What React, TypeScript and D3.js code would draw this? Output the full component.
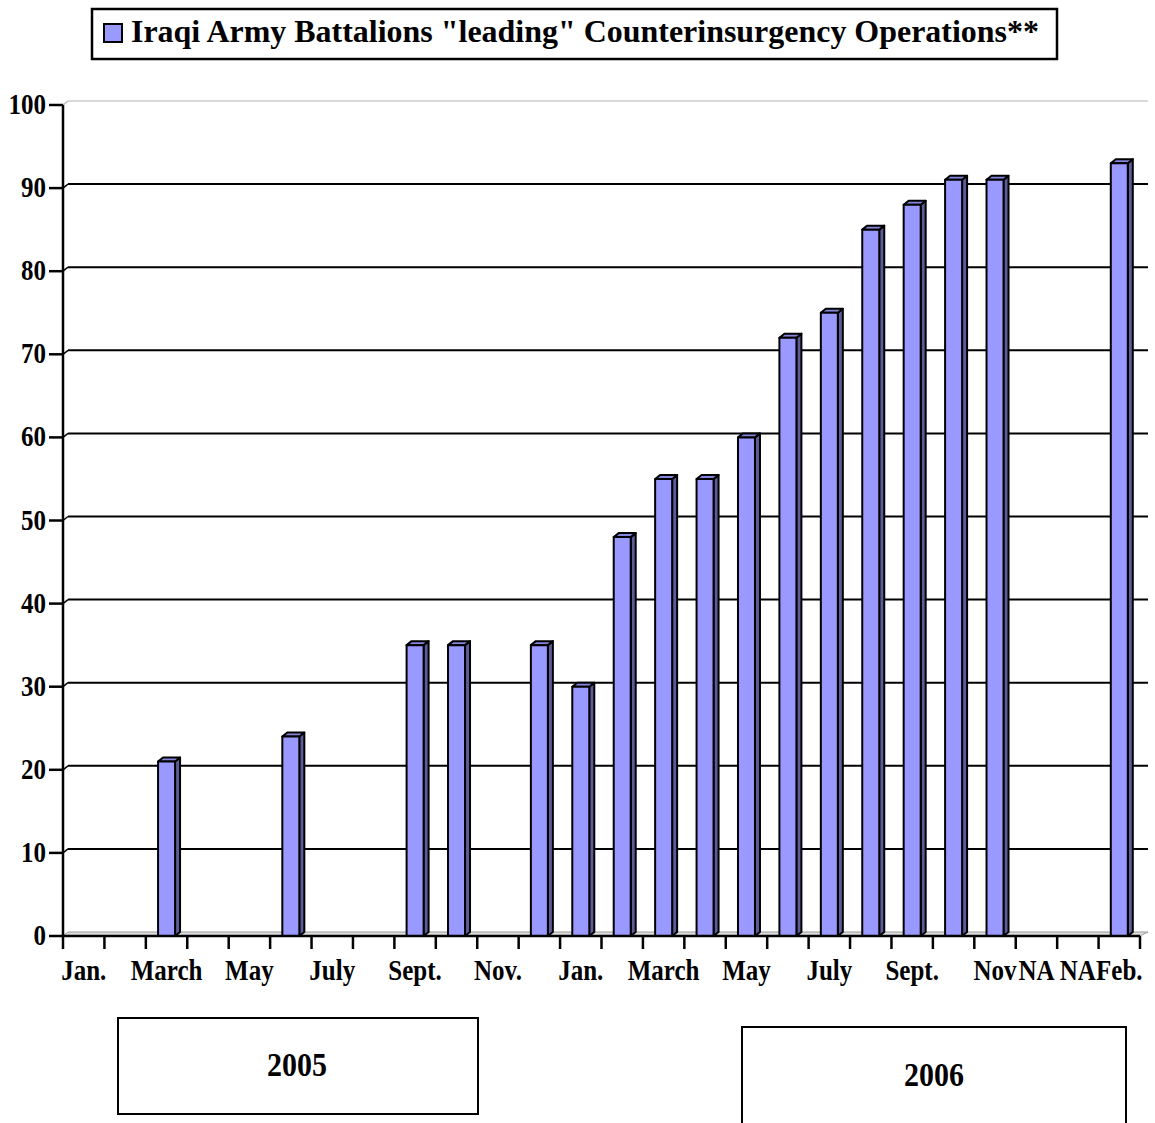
import React from 'react';
import * as d3 from 'd3';

// months Jan 2005 .. Feb 2007
const categories = [
  'Jan 05', 'Feb 05', 'Mar 05', 'Apr 05', 'May 05', 'Jun 05', 'Jul 05', 'Aug 05', 'Sep 05', 'Oct 05', 'Nov 05', 'Dec 05',
  'Jan 06', 'Feb 06', 'Mar 06', 'Apr 06', 'May 06', 'Jun 06', 'Jul 06', 'Aug 06', 'Sep 06', 'Oct 06', 'Nov 06',
  'NA 1', 'NA 2', 'Feb 07',
];
// shown labels (Excel skipped every other one)
const tickLabels = [
  'Jan.', '', 'March', '', 'May', '', 'July', '', 'Sept.', '', 'Nov.', '',
  'Jan.', '', 'March', '', 'May', '', 'July', '', 'Sept.', '', 'Nov',
  'NA', 'NA', 'Feb.',
];
const battalions: (number | null)[] = [
  null, null, 21, null, null, 24, null, null, 35, 35, null, 35,
  30, 48, 55, 55, 60, 72, 75, 85, 88, 91, 91,
  null, null, 93,
];
const yTicks = [0, 10, 20, 30, 40, 50, 60, 70, 80, 90, 100];
const legendLabel = 'Iraqi Army Battalions "leading" Counterinsurgency Operations**';

const serif = '"Liberation Serif", "Times New Roman", serif';

// text drawn a bit taller than wide, like the original picture
const Tall = ({ x, y, size, anchor = 'start', sy = 1.2, children, len }: any) => (
  <text transform={`translate(${x},${y}) scale(1,${sy})`} fontSize={size} textAnchor={anchor}
    textLength={len} lengthAdjust={len ? 'spacingAndGlyphs' : undefined}>
    {children}
  </text>
);

export default function App() {
  const x = d3.scaleBand<string>().domain(categories).range([63, 1140]).padding(0);
  const y = d3.scaleLinear().domain([0, 100]).range([936, 105]);
  const dx = 5;
  const dy = 4;
  const bw = 17;

  const bars = categories
    .map((c, i) => ({ c, v: battalions[i] }))
    .filter((d) => d.v !== null) as { c: string; v: number }[];

  return (
    <svg width={1155} height={1123} style={{ position: 'absolute', left: 0, top: 0, background: '#fff' }}
      fontFamily={serif} fontWeight="bold">
      {/* legend */}
      <rect x={92} y={9} width={965} height={50} fill="#fff" stroke="#000" strokeWidth={2.5} />
      <rect x={104} y={24} width={18} height={18} fill="#9999ff" stroke="#000" strokeWidth={2} />
      <Tall x={131} y={42} size={28} len={908} sy={1.1}>{legendLabel}</Tall>

      {/* floor */}
      <path d={`M63,${y(0)} L${x.range()[1]},${y(0)} L${x.range()[1] + dx + 3},${y(0) - dy} L${63 + dx},${y(0) - dy} Z`}
        fill="#ddd" stroke="#999" strokeWidth={1} />
      {/* back wall top edge */}
      <line x1={63} y1={y(100)} x2={63 + dx} y2={y(100) - dy} stroke="#bbb" strokeWidth={1.5} />
      <line x1={63 + dx} y1={y(100) - dy} x2={1148} y2={y(100) - dy} stroke="#ccc" strokeWidth={1.5} />

      {/* gridlines */}
      {yTicks.filter((t) => t > 0 && t < 100).map((t) => (
        <g key={t}>
          <line x1={63} y1={y(t)} x2={63 + dx} y2={y(t) - dy} stroke="#000" strokeWidth={1.5} />
          <line x1={63 + dx} y1={y(t) - dy} x2={1148} y2={y(t) - dy} stroke="#000" strokeWidth={2} />
        </g>
      ))}

      {/* bars */}
      {bars.map((d) => {
        const cx = (x(d.c) as number) + x.bandwidth() / 2;
        const x0 = cx - bw / 2;
        const x1 = cx + bw / 2;
        const yt = y(d.v);
        const yb = y(0);
        return (
          <g key={d.c} stroke="#000" strokeWidth={2} strokeLinejoin="round">
            <path d={`M${x1},${yt} L${x1 + dx},${yt - dy} L${x1 + dx},${yb - dy} L${x1},${yb} Z`} fill="#5c5c99" />
            <path d={`M${x0},${yt} L${x0 + dx},${yt - dy} L${x1 + dx},${yt - dy} L${x1},${yt} Z`} fill="#8585dd" />
            <rect x={x0} y={yt} width={bw} height={yb - yt} fill="#9999ff" />
          </g>
        );
      })}

      {/* y axis */}
      <line x1={63} y1={y(100)} x2={63} y2={y(0)} stroke="#000" strokeWidth={2.5} />
      {yTicks.map((t) => (
        <g key={t}>
          <line x1={49} y1={y(t)} x2={63} y2={y(t)} stroke="#000" strokeWidth={2.5} />
          <Tall x={46} y={y(t) + 9} size={25} anchor="end" sy={1.2}>{t}</Tall>
        </g>
      ))}

      {/* x axis */}
      <line x1={62} y1={y(0)} x2={x.range()[1]} y2={y(0)} stroke="#000" strokeWidth={2.5} />
      {[...categories.map((c) => x(c) as number), x.range()[1]].map((px, i) => (
        <line key={i} x1={px} y1={y(0)} x2={px} y2={y(0) + 13} stroke="#000" strokeWidth={2.5} />
      ))}
      {categories.map((c, i) => (
        tickLabels[i] ? (
          <Tall key={c} x={(x(c) as number) + x.bandwidth() / 2} y={980} size={25} anchor="middle" sy={1.15}>
            {tickLabels[i]}
          </Tall>
        ) : null
      ))}

      {/* year boxes */}
      <rect x={118} y={1018} width={360} height={96} fill="none" stroke="#000" strokeWidth={2} />
      <Tall x={297} y={1076} size={30} anchor="middle" sy={1.15}>2005</Tall>
      <rect x={742} y={1027} width={384} height={110} fill="none" stroke="#000" strokeWidth={2} />
      <Tall x={934} y={1086} size={30} anchor="middle" sy={1.15}>2006</Tall>
    </svg>
  );
}
